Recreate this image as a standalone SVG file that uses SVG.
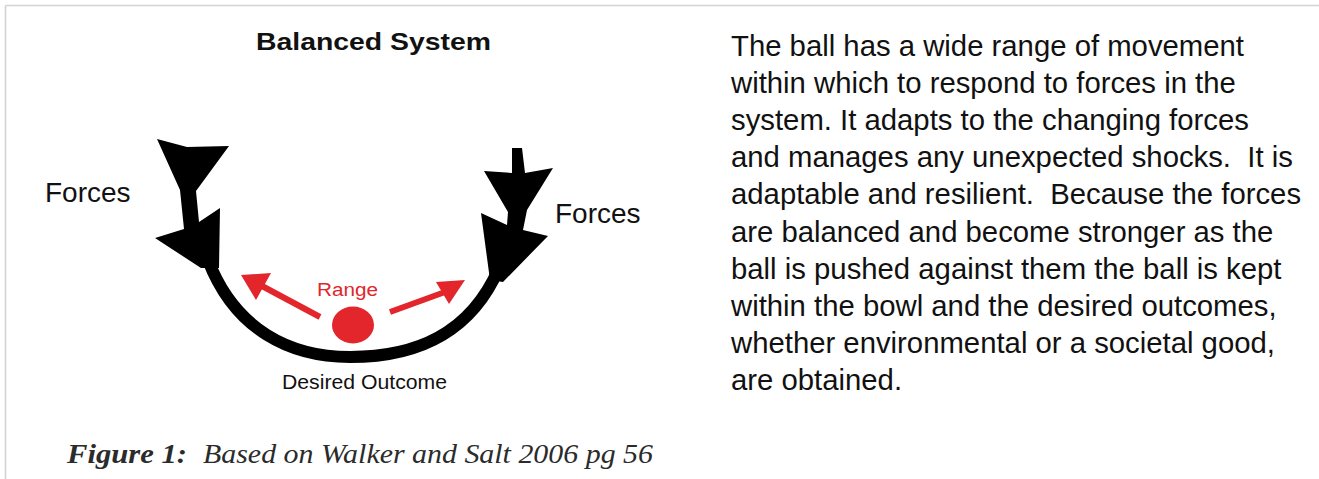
<svg xmlns="http://www.w3.org/2000/svg" width="1319" height="479" viewBox="0 0 1319 479">
<defs>
<style>
.sans{font-family:"Liberation Sans",Arial,sans-serif;fill:#111}
.para{font-family:"Liberation Sans",Arial,sans-serif;font-size:29.3px;fill:#111}
.cap{font-family:"Liberation Serif","Times New Roman",serif;font-style:italic;font-size:27px;fill:#2b2b2b}
.red{fill:#e2262b}
.redline{stroke:#e2262b;stroke-width:6;fill:none}
.blk{fill:#000}
</style>
</defs>
<rect width="1319" height="479" fill="#fff"/>
<g id="frame" fill="none" stroke="#d3d3d3" stroke-width="1.6">
<line x1="5.5" y1="5.5" x2="1319" y2="5.5"/>
<line x1="5.5" y1="5.5" x2="5.5" y2="479"/>
</g>
<g id="title"><text class="sans" x="256" y="49.5" font-size="24" font-weight="bold" textLength="235" lengthAdjust="spacingAndGlyphs">Balanced System</text></g>
<g id="bowl">
<path d="M208,260 C235,330 290,357 350,357 C415,357 470,335 499,268" fill="none" stroke="#000" stroke-width="12"/>
</g>
<g id="force-left">
<polygon class="blk" points="157,139 187,147 229,146 196,191 199,222 220,208 219,268 201,268 155,238 184,229 180,190"/>
<text class="sans" x="45" y="201.5" font-size="28">Forces</text>
</g>
<g id="force-right">
<polygon class="blk" points="512,148 522,148 525,173 553,168 527,210 523,230 548,236 503,282 490,280 481,213 507,225 508,212 484,171 512,173"/>
<text class="sans" x="555" y="223" font-size="28">Forces</text>
</g>
<g id="ball">
<ellipse class="red" cx="353" cy="325" rx="21" ry="18.5"/>
</g>
<g id="connectors">
<line class="redline" x1="320" y1="317" x2="262" y2="286"/>
<polygon class="red" points="241,275 271,273 256,300"/>
<line class="redline" x1="390" y1="312" x2="445" y2="292"/>
<polygon class="red" points="465,280 436,282 449,304"/>
</g>
<g id="range-label"><text class="sans" x="317" y="295.5" font-size="18" style="fill:#e2262b" textLength="61" lengthAdjust="spacingAndGlyphs">Range</text></g>
<g id="outcome-label"><text class="sans" x="282" y="389" font-size="20.5" textLength="165" lengthAdjust="spacingAndGlyphs">Desired Outcome</text></g>
<g id="caption">
<text class="cap" x="67" y="463" font-weight="bold" textLength="120" lengthAdjust="spacingAndGlyphs">Figure 1:</text>
<text class="cap" x="203" y="463" textLength="450" lengthAdjust="spacingAndGlyphs">Based on Walker and Salt 2006 pg 56</text>
</g>
<g id="paragraph">
<text class="para" x="731" y="56">The ball has a wide range of movement</text>
<text class="para" x="731" y="93.1">within which to respond to forces in the</text>
<text class="para" x="731" y="130.2">system. It adapts to the changing forces</text>
<text class="para" x="731" y="167.3" xml:space="preserve">and manages any unexpected shocks.  It is</text>
<text class="para" x="731" y="204.4" xml:space="preserve">adaptable and resilient.  Because the forces</text>
<text class="para" x="731" y="241.5">are balanced and become stronger as the</text>
<text class="para" x="731" y="278.6">ball is pushed against them the ball is kept</text>
<text class="para" x="731" y="315.7">within the bowl and the desired outcomes,</text>
<text class="para" x="731" y="352.8">whether environmental or a societal good,</text>
<text class="para" x="731" y="389.9">are obtained.</text>
</g>
</svg>
